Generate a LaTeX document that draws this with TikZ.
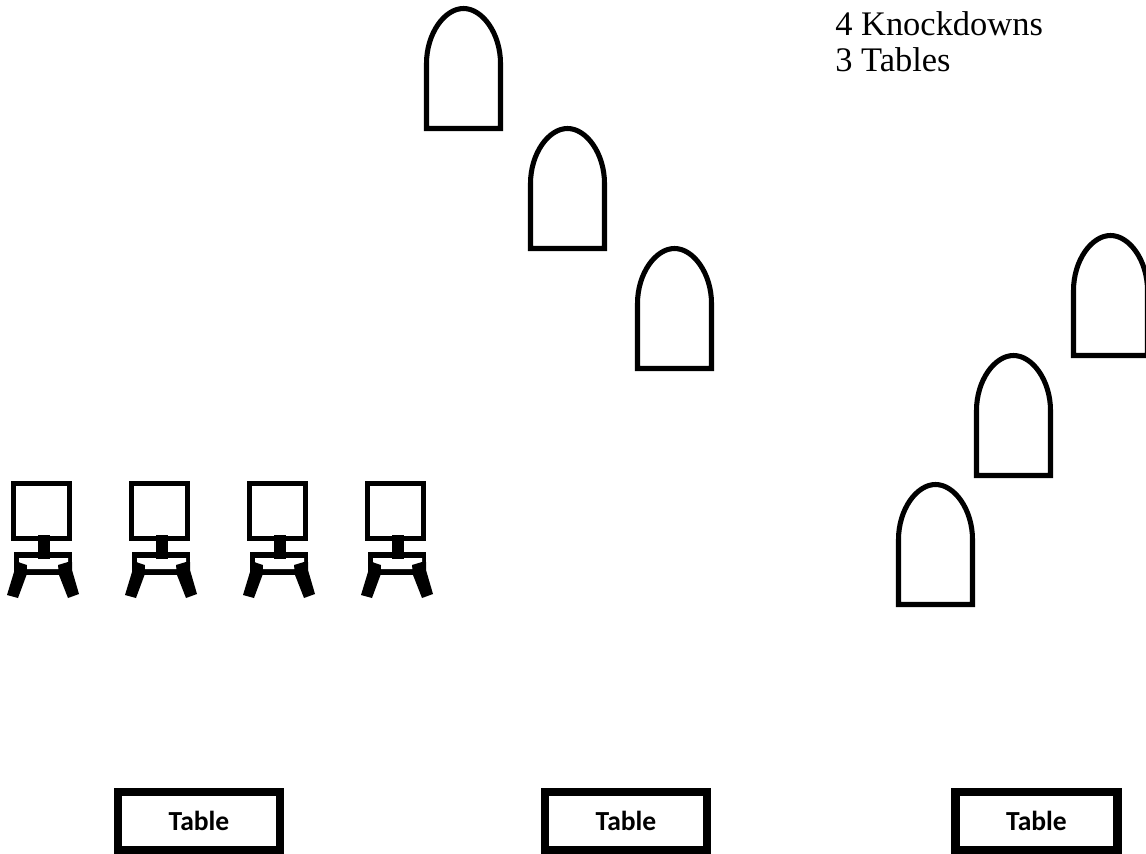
\documentclass[tikz,border=0pt]{standalone}
\usepackage{fontspec}
\setmainfont{Liberation Serif}
\newfontfamily\tablefont{Carlito}
\usetikzlibrary{positioning}
\tikzset{
  knockdown/.style={draw=black, line width=3.6pt, fill=white, line join=miter},
  screen/.style={draw=black, line width=3.9pt, fill=white},
  solid part/.style={fill=black, draw=none},
  tablebox/.style={
    draw=black, line width=5.9pt, fill=white,
    minimum width=162*0.025cm, minimum height=58*0.025cm,
    font=\tablefont\bfseries\fontsize{19.6}{23}\selectfont
  },
  note/.style={anchor=west, inner sep=0pt, font=\fontsize{24.5}{29}\selectfont},
  pics/arch/.style={code={
    \draw[knockdown] (0,120) -- (0,55) .. controls (0,25) and (18,0) .. (37,0)
      .. controls (56,0) and (74,25) .. (74,55) -- (74,120) -- cycle;
  }},
  pics/chair/.style={code={
    % seat
    \fill[solid part] (3,82) rectangle (61,105);
    \fill[white] (8,88) -- (57,88) -- (57,92) -- (48,99) -- (16,99) -- (8,92) -- cycle;
    % legs
    \fill[solid part] (3,92) -- (9,92.7) -- (16,95) -- (15.5,105) -- (7,128) -- (-4,125) -- (3,102) -- cycle;
    \fill[solid part] (61,92) -- (57,92) -- (47,95) -- (48,105) -- (57,128) -- (68,124) -- (61,100) -- cycle;
    % monitor
    \draw[screen] (2.7,13.7) rectangle (58.3,68.3);
    % neck
    \fill[solid part] (27,65) rectangle (39,89);
  }}
}
\begin{document}
\begin{tikzpicture}[x=0.025cm, y=-0.025cm]
  \useasboundingbox (0,0) rectangle (1146,854);
  % Legend
  \node[note] (knockdowns) at (835,24) {4 Knockdowns};
  \node[note] (tables) at (835,60) {3 Tables};
  % Knockdowns
  \foreach \x/\y in {426.5/8.5, 530.5/128.5, 637.5/248.5, 1073.5/235.5, 976.5/355.5, 898.5/484.5}
    \pic at (\x,\y) {arch};
  % Chairs
  \foreach \x in {11, 129, 247, 365}
    \pic at (\x,470) {chair};
  % Tables
  \node[tablebox] (table1) at (199,821) {Table};
  \node[tablebox] (table2) at (626,821) {Table};
  \node[tablebox] (table3) at (1036.5,821) {Table};
\end{tikzpicture}
\end{document}
